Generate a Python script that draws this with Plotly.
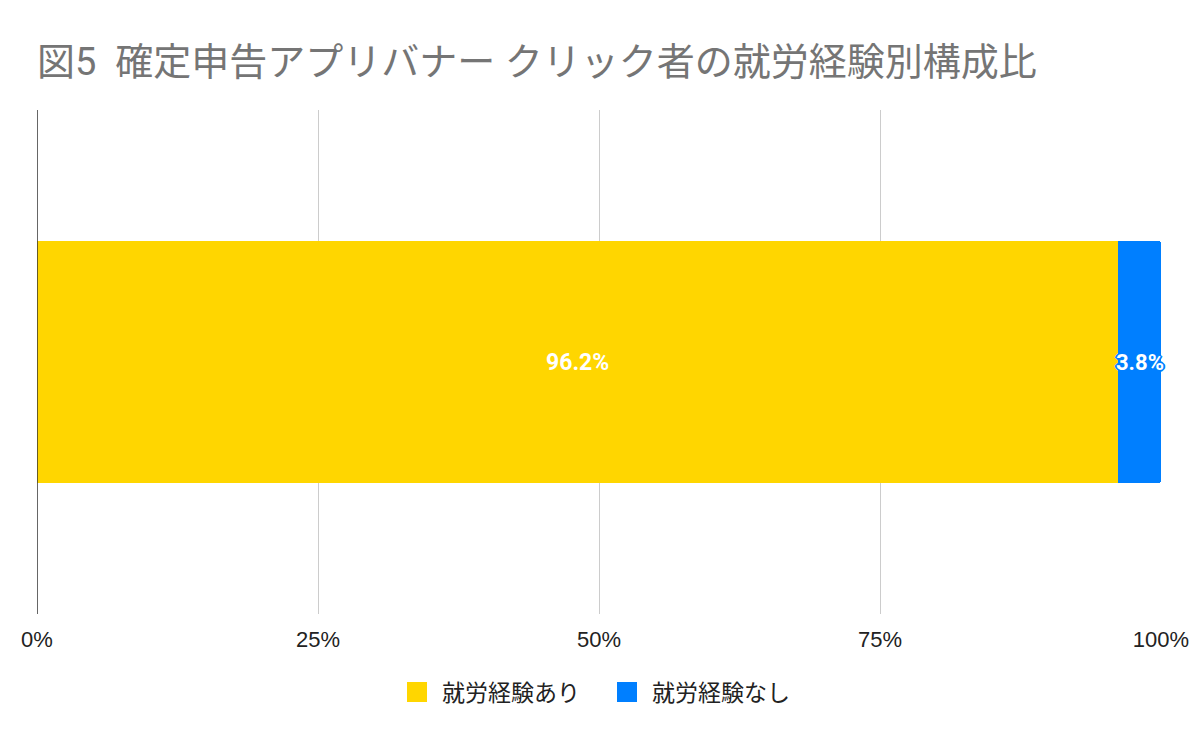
import plotly.graph_objects as go

categories = ["クリック者"]
series_names = ["就労経験あり", "就労経験なし"]
values = [96.2, 3.8]
colors = ["#FFD600", "#007FFF"]
tick_vals = [0, 25, 50, 75, 100]
tick_text = ["0%", "25%", "50%", "75%", "100%"]
title_text = "図5  確定申告アプリバナー クリック者の就労経験別構成比"

FONT = "Roboto, 'Noto Sans CJK JP', sans-serif"

fig = go.Figure()
for name, v, c in zip(series_names, values, colors):
    fig.add_trace(go.Bar(
        y=categories, x=[v], name=name, orientation="h",
        marker=dict(color=c, line=dict(width=0)),
        showlegend=False, hoverinfo="skip",
    ))
# legend proxies with larger square symbols
for name, c in zip(series_names, colors):
    fig.add_trace(go.Scatter(
        x=[None], y=[None], mode="markers", name=name,
        marker=dict(symbol="square", size=16, color=c, line=dict(color=c, width=4)),
    ))

# data labels
cum = 0
for i, v in enumerate(values):
    if i == 0:
        fig.add_annotation(x=cum + v / 2, y=categories[0], text=f"<b>{v}%</b>",
                           showarrow=False, font=dict(color="white", size=23, family=FONT))
    else:
        fig.add_annotation(x=cum + v / 2, y=categories[0], text=f"<b>{v}%</b>",
                           showarrow=False,
                           font=dict(color="white", size=22, family=FONT,
                                     shadow="1px 1px 0 #007FFF, -1px -1px 0 #007FFF, 1px -1px 0 #007FFF, -1px 1px 0 #007FFF, 2px 0 0 #007FFF, -2px 0 0 #007FFF, 0 2px 0 #007FFF, 0 -2px 0 #007FFF"))
    cum += v

fig.update_layout(
    barmode="stack",
    bargap=0.52,
    barcornerradius=3,
    width=1200, height=742,
    paper_bgcolor="white", plot_bgcolor="white",
    margin=dict(l=37, r=39, t=110, b=128),
    title=dict(text=title_text, x=0, xref="paper", xanchor="left", y=1 - 62 / 742, yanchor="middle",
               font=dict(size=38, color="#757575", family=FONT), pad=dict(l=0)),
    xaxis=dict(range=[0, 100], tickvals=tick_vals, ticktext=tick_text,
               showgrid=True, gridcolor="#CCCCCC", gridwidth=1, zeroline=False,
               showline=False, ticks="",
               tickfont=dict(size=22, color="#222222", family="'Liberation Sans', Arial, sans-serif"),
               ticklabelstandoff=10, fixedrange=True),
    yaxis=dict(showticklabels=False, showgrid=False, zeroline=False,
               showline=False, range=[-0.5, 0.5]),
    legend=dict(orientation="h", x=0.5 + 3 / 1124, xanchor="center", y=-0.155, yanchor="middle",
                traceorder="normal",
                font=dict(size=23, color="#222222", family=FONT),
                itemwidth=40, entrywidth=155, entrywidthmode="pixels"),
    showlegend=True,
)
fig.add_shape(type="line", xref="x", yref="paper", x0=0, x1=0, y0=0, y1=1,
              line=dict(color="#333333", width=1.5))

fig.write_html("out.html")
